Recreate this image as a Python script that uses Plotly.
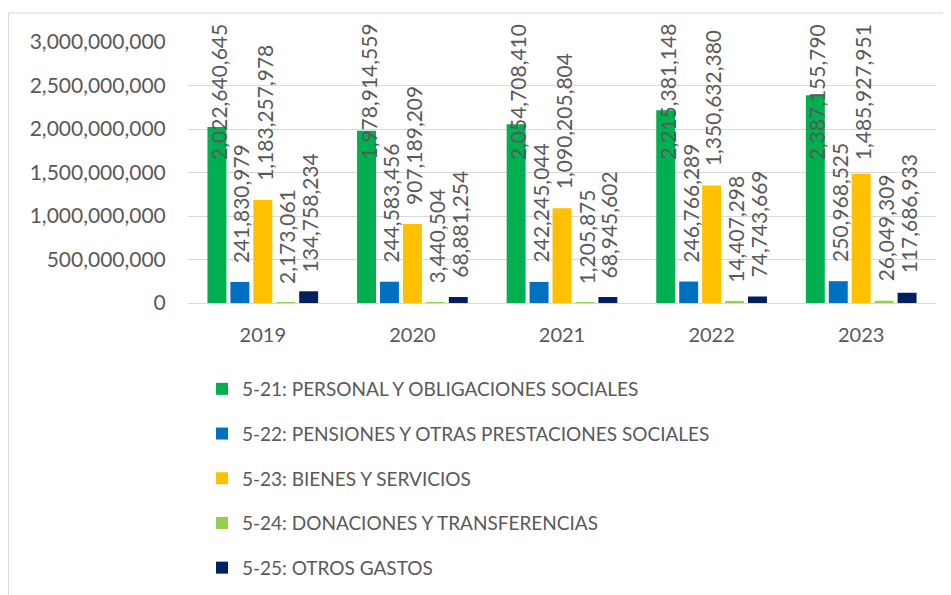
import plotly.graph_objects as go

years = ["2019", "2020", "2021", "2022", "2023"]
series_names = [
    "5-21: PERSONAL Y OBLIGACIONES SOCIALES",
    "5-22: PENSIONES Y OTRAS PRESTACIONES SOCIALES",
    "5-23: BIENES Y SERVICIOS",
    "5-24: DONACIONES Y TRANSFERENCIAS",
    "5-25: OTROS GASTOS",
]
personal = [2022640645, 1978914559, 2054708410, 2215381148, 2387155790]
pensiones = [241830979, 244583456, 242245044, 246766289, 250968525]
bienes = [1183257978, 907189209, 1090205804, 1350632380, 1485927951]
donaciones = [2173061, 3440504, 1205875, 14407298, 26049309]
otros = [134758234, 68881254, 68945602, 74743669, 117686933]
colors = ["#00B050", "#0070C0", "#FFC000", "#92D050", "#002060"]

all_values = [personal, pensiones, bienes, donaciones, otros]

# the page body adds an 8px margin, so the figure is drawn 8px smaller/shifted
W, H = 943, 587
ML, MR, MT, MB = 180, 15, 34, 292
PW = W - ML - MR
PH = H - MT - MB
YMAX = 3e9
BARGAP = 35 / 150
BARGROUPGAP = 4 / 23
FONT = "Lato"
GRAY = "#595959"
LABEL_TOP = 14

fig = go.Figure()
for name, vals, col in zip(series_names, all_values, colors):
    fig.add_trace(go.Bar(x=years, y=vals, name=name, marker_color=col,
                         marker_line_width=0, legendgroup=name,
                         hoverinfo="x+y+name"))

# data labels
ncat = len(years)
cat_px = PW / ncat
slot_px = cat_px * (1 - BARGAP) / len(series_names)
char_w = 0.58 * 21
comma_w = 0.26 * 21
annotations = []
for i, vals in enumerate(all_values):
    off = (i - (len(series_names) - 1) / 2) * slot_px
    for j, v in enumerate(vals):
        txt = f"{v:,}"
        L = txt.count(",") * comma_w + (len(txt) - txt.count(",")) * char_w
        bar_top = MT + PH * (1 - v / YMAX)
        top_px = bar_top - 17 - L
        common = dict(x=j, xref="x", xanchor="center", xshift=off + 1,
                      text=txt, textangle=-90, showarrow=False,
                      font=dict(family=FONT, size=21, color=GRAY))
        if top_px < LABEL_TOP:
            annotations.append(dict(y=1, yref="paper", yshift=MT - LABEL_TOP,
                                    yanchor="top", **common))
        else:
            annotations.append(dict(y=v, yref="y", yshift=17,
                                    yanchor="bottom", **common))

fig.update_layout(
    width=W, height=H,
    margin=dict(l=ML, r=MR, t=MT, b=MB, autoexpand=False),
    paper_bgcolor="white", plot_bgcolor="white",
    barmode="group", bargap=BARGAP, bargroupgap=BARGROUPGAP,
    font=dict(family=FONT, size=21, color=GRAY),
    annotations=annotations,
    legend=dict(orientation="v", x=(194 - ML) / PW, xanchor="left",
                y=(MT + PH - 362) / PH, yanchor="top",
                font=dict(family=FONT, size=19, color=GRAY),
                tracegroupgap=17, bgcolor="rgba(0,0,0,0)"),
    shapes=[dict(type="rect", xref="paper", yref="paper",
                 x0=(0.5 - ML) / PW, x1=(W + 5 - ML) / PW,
                 y0=(MT + PH - (H + 5)) / PH, y1=1 + (MT - 5) / PH,
                 line=dict(color="#D9D9D9", width=1), layer="below")],
    showlegend=True,
)
fig.update_yaxes(range=[0, YMAX], tickvals=[0, 5e8, 1e9, 1.5e9, 2e9, 2.5e9, 3e9],
                 tickformat=",d", showgrid=True, gridcolor="#D9D9D9", gridwidth=1,
                 zeroline=False, ticks="outside", ticklen=17, tickcolor="rgba(0,0,0,0)",
                 tickfont=dict(family=FONT, size=21, color=GRAY), showline=False)
fig.update_xaxes(type="category", range=[-0.5, ncat - 0.5], showline=True,
                 linecolor="#D9D9D9", linewidth=1,
                 ticks="outside", ticklen=14, tickcolor="rgba(0,0,0,0)",
                 tickfont=dict(family=FONT, size=20, color=GRAY))

fig.write_html("out.html")
